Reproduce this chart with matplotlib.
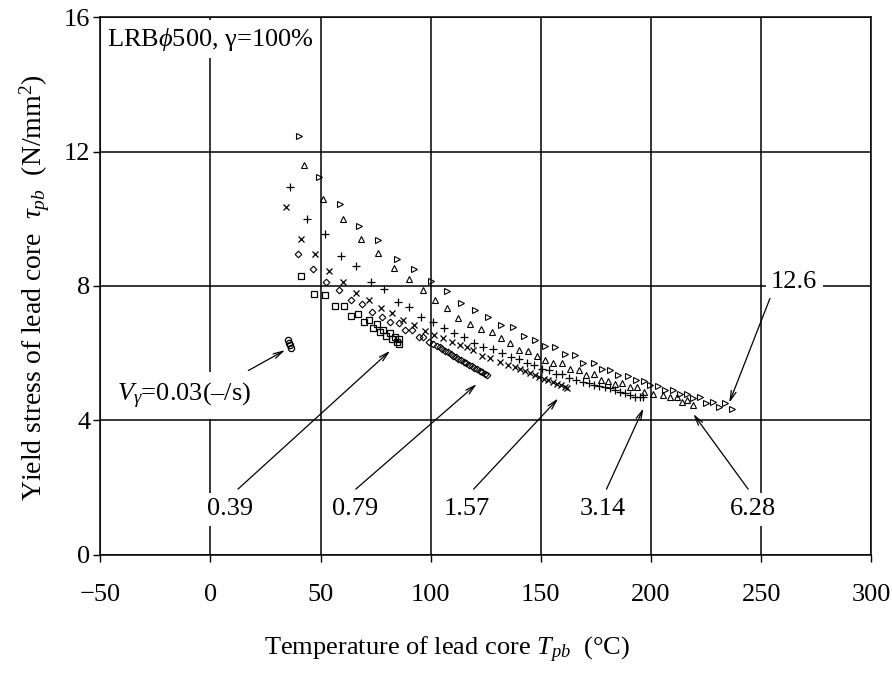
import matplotlib
matplotlib.use("Agg")
import matplotlib.pyplot as plt

plt.rcParams['font.family'] = ['Liberation Serif', 'DejaVu Serif']
plt.rcParams['mathtext.fontset'] = 'custom'
plt.rcParams['mathtext.rm'] = 'Liberation Serif'
plt.rcParams['mathtext.it'] = 'Liberation Serif:italic'
plt.rcParams['mathtext.bf'] = 'Liberation Serif:bold'

FS = 19

# ---- data: lead-core temperature (deg C) vs yield stress (N/mm^2) ----
t_003 = [35.3, 35.7, 36.0, 36.4]
s_003 = [6.39, 6.31, 6.23, 6.16]

t_039 = [41.0, 47.1, 52.2, 56.6, 60.7, 64.0, 66.8, 69.5, 71.9, 73.7, 75.5, 77.0,
         78.5, 79.8, 81.3, 82.3, 83.9, 84.6, 85.4, 85.8]
s_039 = [8.30, 7.77, 7.74, 7.40, 7.40, 7.10, 7.17, 6.94, 6.99, 6.74, 6.87, 6.64,
         6.69, 6.51, 6.59, 6.41, 6.47, 6.34, 6.41, 6.27]

t_079 = [39.8, 46.5, 52.5, 58.4, 63.9, 68.8, 73.5, 77.8, 81.6, 85.4, 88.4, 91.4,
         94.5, 96.7, 99.1, 101.0, 102.8, 104.0, 105.3, 106.5, 107.8, 109.0, 110.2,
         111.4, 112.6, 113.8, 115.0, 116.2, 117.4, 118.6, 119.8, 121.0, 122.2,
         123.4, 124.5, 125.5]
s_079 = [8.96, 8.51, 8.12, 7.87, 7.58, 7.47, 7.21, 7.08, 6.94, 6.89, 6.69, 6.69,
         6.49, 6.47, 6.34, 6.28, 6.22, 6.17, 6.12, 6.07, 6.02, 5.97, 5.92,
         5.88, 5.83, 5.79, 5.74, 5.70, 5.65, 5.61, 5.56, 5.52, 5.47,
         5.43, 5.39, 5.35]

t_157 = [34.5, 41.0, 47.5, 54.0, 60.4, 66.3, 72.0, 77.5, 82.3, 87.6, 92.2, 97.5,
         101.6, 105.8, 109.6, 113.3, 116.4, 119.4, 123.2, 127.0, 131.5, 135.3,
         138.3, 140.5, 142.8, 145.0, 147.2, 149.3, 151.4, 153.4, 155.4, 157.3,
         159.2, 161.0, 162.0]
s_157 = [10.35, 9.41, 8.94, 8.45, 8.12, 7.80, 7.58, 7.35, 7.20, 6.99, 6.84, 6.66,
         6.54, 6.44, 6.34, 6.24, 6.19, 6.09, 5.91, 5.85, 5.74, 5.66,
         5.60, 5.53, 5.47, 5.41, 5.35, 5.29, 5.24, 5.19, 5.14, 5.09,
         5.04, 5.00, 4.97]

t_314 = [36.2, 43.9, 51.8, 59.2, 66.2, 72.8, 78.8, 85.0, 90.3, 95.6, 100.9, 106.1,
         110.6, 115.2, 119.7, 123.9, 128.2, 132.3, 136.6, 140.3, 143.6, 147.1,
         150.7, 153.9, 156.9, 159.8, 163.0, 166.0, 169.3, 172.0, 174.2, 176.6,
         179.2, 181.4, 183.7, 185.7, 188.2, 190.5, 192.8, 194.8, 196.3]
s_314 = [10.94, 9.98, 9.54, 8.88, 8.59, 8.11, 7.90, 7.53, 7.36, 7.08, 6.94, 6.74,
         6.61, 6.47, 6.31, 6.17, 6.11, 6.01, 5.88, 5.83, 5.71, 5.65,
         5.52, 5.50, 5.38, 5.38, 5.25, 5.20, 5.15, 5.12, 5.05, 5.02,
         4.98, 4.95, 4.90, 4.85, 4.80, 4.75, 4.70, 4.68, 4.68]

t_628 = [42.4, 51.3, 60.1, 68.5, 76.2, 83.5, 90.2, 96.7, 102.1, 107.6, 112.6,
         117.9, 122.7, 127.7, 131.8, 136.0, 140.3, 144.1, 148.2, 152.0, 155.7,
         159.5, 163.3, 167.1, 170.5, 173.9, 177.2, 180.7, 183.7, 186.8, 190.5,
         193.5, 196.9, 201.1, 205.6, 208.7, 211.7, 214.0, 216.3, 218.9]
s_628 = [11.60, 10.59, 9.98, 9.39, 8.99, 8.53, 8.20, 7.88, 7.58, 7.35, 7.04,
         6.88, 6.72, 6.64, 6.44, 6.30, 6.10, 6.07, 5.91, 5.80, 5.71,
         5.71, 5.52, 5.50, 5.35, 5.38, 5.20, 5.18, 5.08, 5.10, 4.98,
         4.98, 4.85, 4.78, 4.75, 4.70, 4.68, 4.55, 4.60, 4.45]

t_126 = [40.0, 49.2, 58.6, 67.6, 76.3, 84.9, 92.6, 100.0, 107.3, 113.8, 120.2,
         126.2, 132.0, 137.2, 142.2, 147.4, 151.9, 156.5, 161.0, 165.6, 169.3,
         173.9, 177.7, 181.4, 185.2, 189.7, 193.2, 196.6, 199.6, 203.4, 206.4,
         209.9, 213.2, 216.3, 219.2, 222.3, 225.0, 228.0, 231.0, 233.6, 236.7]
s_126 = [12.47, 11.25, 10.44, 9.79, 9.37, 8.80, 8.50, 8.16, 7.86, 7.48, 7.28,
         7.07, 6.84, 6.77, 6.51, 6.39, 6.21, 6.19, 5.97, 5.94, 5.71,
         5.71, 5.52, 5.50, 5.35, 5.32, 5.20, 5.18, 5.05, 5.02, 4.90,
         4.90, 4.78, 4.78, 4.65, 4.70, 4.51, 4.55, 4.39, 4.51, 4.34]

x_ticks = [-50, 0, 50, 100, 150, 200, 250, 300]
y_ticks = [0, 4, 8, 12, 16]

# rate labels: text, text position, arrow tail, arrow tip
rate_labels = ['0.39', '0.79', '1.57', '3.14', '6.28', '12.6']
label_xy = [(9.0, 1.35), (65.5, 1.35), (116.5, 1.35), (178.3, 1.35), (246.5, 1.35), (265.0, 8.13)]
arrow_from = [(12.5, 1.95), (66.0, 1.95), (119.5, 1.95), (179.8, 1.95), (244.1, 1.95), (254.0, 7.63)]
arrow_to = [(81.6, 6.07), (120.9, 5.08), (157.9, 4.65), (196.6, 4.36), (219.2, 4.19), (235.5, 4.52)]

fig = plt.figure(figsize=(8.92, 6.73), dpi=100)
ax = fig.add_axes([0.1124, 0.1759, 0.8644, 0.7984])

mk = dict(linestyle='none', markerfacecolor='none', markeredgecolor='black', zorder=3)
ax.plot(t_003, s_003, marker='o', markersize=4.5, markeredgewidth=0.9, **mk)
ax.plot(t_039, s_039, marker='s', markersize=4.8, markeredgewidth=0.9, **mk)
ax.plot(t_079, s_079, marker='D', markersize=3.4, markeredgewidth=0.8, **mk)
ax.plot(t_157, s_157, marker='x', markersize=5.0, markeredgewidth=0.9, **mk)
ax.plot(t_314, s_314, marker='+', markersize=6.0, markeredgewidth=0.9, **mk)
ax.plot(t_628, s_628, marker='^', markersize=5.0, markeredgewidth=0.8, **mk)
ax.plot(t_126, s_126, marker='>', markersize=5.0, markeredgewidth=0.8, **mk)

ax.set_xlim(-50, 300)
ax.set_ylim(0, 16)
ax.set_xticks(x_ticks)
ax.set_yticks(y_ticks)
ax.tick_params(axis='both', direction='out', length=5, width=1.0, labelsize=FS,
               colors='black')
ax.tick_params(axis='x', pad=16)
ax.tick_params(axis='y', pad=2)
ax.grid(True, color='black', linewidth=1.1)
ax.set_axisbelow(True)
for sp in ax.spines.values():
    sp.set_linewidth(1.1)
    sp.set_color('black')

ax.text(-46.9, 15.15, r'LRB$\phi$500, γ=100%', fontsize=FS, ha='left',
        va='baseline', bbox=dict(facecolor='white', edgecolor='none', pad=4), zorder=4)

ax.text(-42.4, 4.57, r'$V_{\gamma}$=0.03(–/s)', fontsize=FS, ha='left',
        va='baseline', bbox=dict(facecolor='white', edgecolor='none', pad=6), zorder=4)
ax.annotate('', xy=(33.9, 6.09), xytext=(17.2, 5.48),
            arrowprops=dict(arrowstyle='->,head_length=0.7,head_width=0.18',
                            color='black', lw=0.9, shrinkA=0, shrinkB=0), zorder=5)

for txt, pos, p0, p1 in zip(rate_labels, label_xy, arrow_from, arrow_to):
    ax.text(pos[0], pos[1], txt, fontsize=FS, ha='center', va='center',
            bbox=dict(facecolor='white', edgecolor='none', pad=4), zorder=4)
    ax.annotate('', xy=p1, xytext=p0,
                arrowprops=dict(arrowstyle='->,head_length=0.7,head_width=0.18',
                                color='black', lw=0.9, shrinkA=0, shrinkB=0), zorder=5)

fig.text(447 / 892, 1 - 655 / 673, r'Temperature of lead core $T_{pb}$  (°C)',
         fontsize=FS, ha='center', va='baseline')
fig.text(35 / 892, 1 - 288 / 673, r'Yield stress of lead core  $\tau_{pb}$  (N/mm$^2$)',
         fontsize=20, ha='center', va='center', rotation=90)

fig.savefig('out.png', dpi=100)
